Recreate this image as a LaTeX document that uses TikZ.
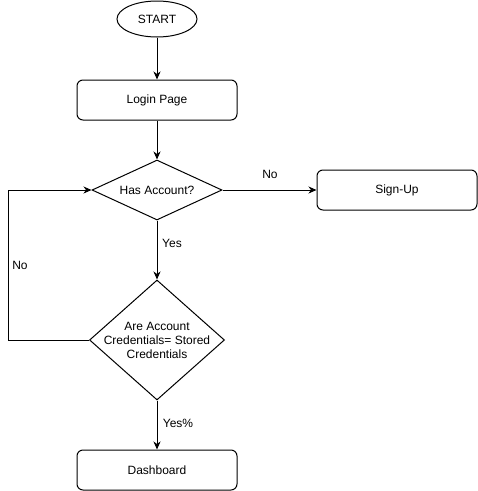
\documentclass[tikz,border=0pt]{standalone}
\usepackage{fontspec}
\setmainfont{Liberation Sans}
\usetikzlibrary{shapes.geometric,arrows.meta}
\begin{document}
\begin{tikzpicture}[x=1pt,y=-1pt,
  every node/.style={font=\fontsize{12}{14}\selectfont},
  box/.style={draw,line width=1pt,rounded corners=6pt,minimum width=160pt,minimum height=40pt,inner sep=0pt},
  terminal/.style={draw,line width=1pt,ellipse,minimum width=80pt,minimum height=36pt,inner sep=0pt},
  decision/.style={draw,line width=1pt,diamond,inner sep=0pt},
  flow/.style={line width=1pt,-{Stealth[length=8pt,width=7pt,inset=2.5pt]}},
  lbl/.style={inner sep=1pt}]
\useasboundingbox (0,0) rectangle (478,491);
\fill[white] (0,0) rectangle (478,491);

\node[terminal] (start) at (157,19) {START};
\node[box] (login) at (157,100) {Login Page};
\node[decision,minimum width=130pt,minimum height=60pt] (has) at (157,190) {};
\node (hastext) at (157,190) {Has Account?};
\node[box] (signup) at (397,190) {Sign-Up};
\node[decision,minimum width=135pt,minimum height=120pt] (cred) at (157,340) {};
\node[align=center] (credtext) at (157,340) {Are Account\\Credentials= Stored\\Credentials};
\node[box] (dash) at (157,470) {Dashboard};
\coordinate (loop) at (8,340);

\draw[flow] (start) -- (login);
\draw[flow] (login) -- (has);
\draw[flow] (has) -- (signup);
\draw[flow] (has) -- (cred);
\draw[flow] (cred) -- (dash);
\draw[flow] (cred.west) -- (loop) |- (has.west);

\node[lbl] (lno1) at (270,174) {No};
\node[lbl] (lyes1) at (172,243) {Yes};
\node[lbl] (lno2) at (20,265) {No};
\node[lbl] (lyes2) at (178,423) {Yes\%};
\end{tikzpicture}
\end{document}
